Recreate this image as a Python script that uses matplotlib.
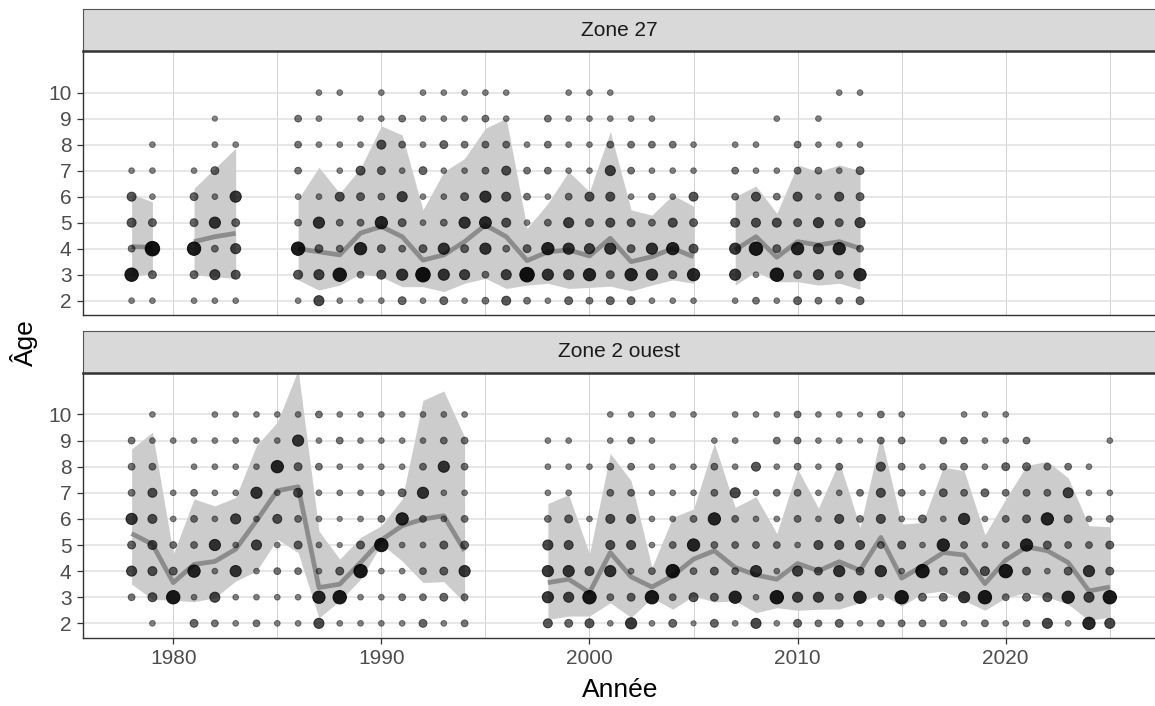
import numpy as np
import matplotlib
matplotlib.use("Agg")
import matplotlib.pyplot as plt

plt.rcParams['font.family'] = ['Liberation Sans', 'DejaVu Sans']

ages = [2, 3, 4, 5, 6, 7, 8, 9, 10]

# Zone 27
z27_years = [1978, 1979, 1981, 1982, 1983] + list(range(1986, 2006)) + list(range(2007, 2014))
# relative weight of each age (2..10) per year, 0 = no fish
z27_sizes = [
    [1, 4.5, 1.5, 2.5, 2.5, 1, 0, 0, 0],
    [1, 2, 5, 2, 1, 1, 1, 0, 0],
    [1, 2, 4.5, 2, 2, 1, 0, 0, 0],
    [1, 3, 1.5, 3.5, 1, 2, 1, 0.8, 0],
    [1, 2.5, 3, 2, 3.5, 0, 1, 0, 0],
    [1, 2.5, 4.5, 1.5, 1, 1.5, 1.5, 1.5, 0],
    [3, 3, 2, 3.5, 1, 0, 1, 1, 1],
    [1, 4.5, 1.5, 1.5, 2.5, 1, 1, 0, 1],
    [0.8, 1.5, 4, 1.5, 2, 2.5, 1, 1, 0],
    [1, 2.5, 2, 4, 1.5, 2, 2.5, 1, 1],
    [2, 3.5, 1.5, 2, 3, 1, 1.5, 1.5, 0],
    [1, 5, 2, 1, 1, 2, 1, 1, 1],
    [2, 3.5, 3.5, 1.5, 1, 1, 2, 1, 1],
    [1, 3, 2, 3.5, 2, 1, 1.5, 1, 1],
    [1.5, 1.5, 3.5, 3.8, 3.5, 1.5, 1.5, 1.5, 1],
    [2.5, 3, 1.5, 2.5, 2.5, 2.5, 1.5, 1, 1],
    [1.5, 5, 2, 1, 1.5, 1.5, 1, 0, 0],
    [1, 3.5, 4, 1.5, 1, 1.5, 1.5, 1.5, 0],
    [2, 3, 3.5, 3, 1.5, 1, 1, 1, 1],
    [1.5, 4, 3, 2, 2.5, 1, 1, 1, 1],
    [2, 2, 3.5, 2.5, 2.5, 3, 1.5, 1, 1],
    [2, 4, 2, 2, 1, 1.5, 1.5, 1, 0],
    [1, 3.5, 3.5, 1.5, 1.5, 1, 1.5, 1, 0],
    [1, 2, 4, 2.5, 1, 1, 1.5, 0, 0],
    [1, 4, 2.5, 2, 2.5, 1, 1, 0, 0],
    [1, 3.5, 3.5, 2.5, 1.5, 1.5, 1, 0, 0],
    [1.5, 1, 4.5, 2.5, 2.5, 1, 1, 0, 0],
    [1, 4.5, 2, 2.5, 1.5, 1, 0, 1, 0],
    [2, 2, 4, 2, 2.5, 1.5, 1.5, 0, 0],
    [1.5, 3, 3, 3, 1, 1.5, 1, 1, 0],
    [1.5, 2, 4, 2, 2.5, 1, 1, 0, 1],
    [2, 4, 1.5, 3, 2, 2, 1, 0, 1],
]
z27_mean = [4.08, 4.05, 4.27, 4.46, 4.59, 4.0, 3.88, 3.76, 4.6, 4.85, 4.46, 3.56, 3.76, 4.27,
            4.91, 4.46, 3.54, 3.88, 3.95, 3.72, 4.40, 3.5, 3.69, 4.01, 3.69,
            3.95, 4.46, 3.67, 4.27, 4.14, 4.27, 4.01]
z27_lo = [2.92, 3.05, 2.99, 2.92, 2.86, 2.8, 2.41, 2.6, 3.03, 2.92, 2.54, 2.54, 2.35, 2.67,
          2.86, 2.47, 2.6, 2.67, 2.47, 2.51, 2.56, 2.38, 2.6, 2.8, 2.67,
          2.6, 3.12, 2.73, 2.73, 2.6, 2.67, 2.44]
z27_hi = [6.1, 5.8, 6.32, 7.09, 7.86, 5.9, 7.13, 6.13, 7.1, 8.72, 8.37, 5.49, 6.96, 7.47,
          8.63, 9.01, 4.78, 5.74, 6.96, 6.19, 8.5, 5.49, 5.29, 6.06, 5.64,
          6.0, 6.41, 5.36, 7.22, 6.96, 7.22, 7.0]

# Zone 2 ouest
z2o_years = list(range(1978, 1995)) + list(range(1998, 2026))
z2o_sizes = [
    [0, 1.5, 3, 2, 3.5, 1.5, 1.5, 1.5, 0],
    [1, 2.5, 2.5, 2.5, 2.5, 2.5, 1.5, 1, 1],
    [0, 4.5, 2, 1.5, 1, 1, 0, 1, 0],
    [2, 1, 4, 1.5, 1.5, 1.5, 1, 1, 0],
    [1.5, 3, 1, 3.5, 1, 1, 1, 1, 1],
    [1, 1, 3.5, 1, 3, 1, 1, 1, 1],
    [1.5, 1, 1, 3, 1, 3.5, 1, 1, 1],
    [1, 1, 1.5, 1, 2.5, 1, 4, 1, 1],
    [1, 1, 1.5, 2, 1.5, 2.5, 2, 3.5, 1],
    [3, 4, 1, 1, 1, 1, 1.5, 1, 1.5],
    [1, 4.5, 2, 0.8, 0.8, 1, 1, 1.5, 1],
    [1, 1, 4.5, 2, 1, 1, 1, 1, 1],
    [1, 1, 1, 4.5, 1.5, 1, 1, 1, 1],
    [1, 1.5, 1, 1, 4, 2, 1, 1, 1],
    [2, 1.5, 1.5, 1, 1.5, 3.5, 1.5, 1, 1],
    [1, 2, 2, 2, 1, 1, 3.5, 1.5, 1],
    [1.5, 1.5, 3.5, 2, 1.5, 1, 1.5, 1.5, 1],
    [2.5, 3.5, 3.5, 3, 1.5, 1, 1, 1, 0],
    [2, 3, 3.5, 2.5, 2, 1, 1, 1, 0],
    [2.5, 4.5, 2.5, 0, 1, 0, 1, 0, 0],
    [1, 1.5, 3.5, 2.5, 2.5, 1.5, 1.5, 1, 1],
    [3.5, 2, 1, 2.5, 2.5, 1.5, 1.5, 1.5, 1],
    [1, 4.5, 1.5, 1, 1, 1, 1, 1, 1],
    [2, 1.5, 4.5, 1.5, 1, 1, 1, 0, 1],
    [0.8, 2.5, 1.5, 4, 1.5, 1, 1, 0, 1],
    [2, 2, 2, 1.5, 4, 1.5, 1.5, 1, 0],
    [1, 4, 1.5, 1.5, 1.5, 3, 1, 1, 1],
    [3, 1, 3.5, 1.5, 1, 1, 2.5, 0, 1],
    [1, 4.5, 1, 1.5, 1, 1.5, 1, 1.5, 1],
    [2, 3, 3, 1, 1.5, 1.5, 1.5, 1.5, 1.5],
    [1.5, 3, 2, 2.5, 1, 1, 1, 1, 1],
    [2, 2, 3.5, 2.5, 2.5, 1, 1.5, 1, 1],
    [1, 4, 2, 2.5, 1.5, 1.5, 0, 0.8, 0.8],
    [1.5, 1, 3.5, 1.5, 2.5, 2.5, 2.5, 1.5, 1.5],
    [1.5, 4.5, 1, 2, 1, 1.5, 1.5, 1.5, 1],
    [1.5, 2, 4.5, 1, 2, 1, 1, 0, 0],
    [1.5, 2, 2, 4, 1, 2, 1.5, 1.5, 0],
    [1, 3.5, 2, 1.5, 3.5, 1.5, 1.5, 1.5, 1],
    [1.5, 4.5, 2.5, 1, 1, 2, 1, 1, 1],
    [1, 1.5, 4.5, 1.5, 1.5, 1.5, 2, 1, 1],
    [1.5, 2, 2, 4, 2, 1.5, 2, 1.5, 0],
    [3, 2.5, 1, 2, 4, 1.5, 1.5, 0, 0],
    [1, 4, 2, 1.5, 2, 3, 1.5, 0, 0],
    [4, 3, 3.5, 1.5, 1, 1, 1, 0, 0],
    [3, 4.5, 2, 2, 1.5, 1, 0, 1, 0],
]
z2o_mean = [5.44, 5.03, 3.56, 4.26, 4.37, 4.84, 5.93, 7.08, 7.23, 3.37, 3.5, 4.33, 5.19, 5.74, 5.99, 6.12, 4.78,
            3.56, 3.69, 3.18, 4.71, 3.78, 3.39, 3.82, 4.46, 4.78, 4.14, 3.85, 3.69, 4.29, 4.01, 4.36,
            4.03, 5.29, 3.73, 4.2, 4.71, 4.62, 3.52, 4.42, 4.93, 4.78, 4.33, 3.24, 3.39]
z2o_lo = [3.5, 2.92, 2.88, 2.83, 2.98, 3.62, 4.0, 5.22, 4.71, 2.21, 2.86, 3.69, 5.03, 4.39, 3.56, 3.6, 2.79,
          2.15, 2.28, 2.28, 2.79, 2.22, 2.98, 2.54, 3.05, 2.82, 2.86, 2.41, 2.6, 2.5, 2.54, 2.55,
          2.79, 3.14, 2.66, 3.14, 3.24, 2.88, 2.5, 2.98, 3.18, 3.01, 2.73, 2.11, 2.24]
z2o_hi = [8.68, 9.32, 4.65, 6.76, 6.5, 6.82, 8.81, 9.71, 11.7, 5.54, 4.46, 5.29, 5.74, 6.76, 10.54, 10.9, 9.13,
          6.59, 6.93, 4.65, 8.51, 7.46, 4.14, 6.06, 6.38, 8.9, 6.44, 6.85, 5.44, 7.91, 6.41, 8.2,
          5.67, 9.19, 5.8, 5.86, 7.98, 7.85, 5.39, 6.76, 8.04, 8.21, 7.57, 5.74, 5.7]

zones = ["Zone 27", "Zone 2 ouest"]
panel_data = [
    (z27_years, z27_sizes, z27_mean, z27_lo, z27_hi),
    (z2o_years, z2o_sizes, z2o_mean, z2o_lo, z2o_hi),
]

W, H = 1155, 706
fig = plt.figure(figsize=(W / 100, H / 100), dpi=100)

left, right = 82.7, 1158.7
panels = [(51, 315), (372.7, 637.7)]
strips = [(9, 51), (330.7, 372.7)]


def runs(years):
    # split the years into runs of consecutive years (gaps break line and ribbon)
    out, start = [], 0
    for i in range(1, len(years) + 1):
        if i == len(years) or years[i] != years[i - 1] + 1:
            out.append((start, i))
            start = i
    return out


for k, zone in enumerate(zones):
    top, bot = panels[k]
    ax = fig.add_axes([left / W, 1 - bot / H, (right - left) / W, (bot - top) / H])
    years, sizes, mean, lo, hi = panel_data[k]
    years = np.array(years)
    mean, lo, hi = np.array(mean), np.array(lo), np.array(hi)

    for a, b in runs(list(years)):
        ax.fill_between(years[a:b], lo[a:b], hi[a:b], color='#cccccc', lw=0, zorder=1)
        ax.plot(years[a:b], mean[a:b], color='#8c8c8c', lw=3.4, solid_capstyle='butt', zorder=2)

    xs, ys, ss = [], [], []
    for yr, row in zip(years, sizes):
        for age, s in zip(ages, row):
            if s > 0:
                xs.append(yr)
                ys.append(age)
                ss.append(s)
    ss = np.array(ss)
    diam_px = 3.5 + 2.2 * ss
    area = (diam_px * 0.72) ** 2
    alpha = np.clip(0.35 + 0.12 * ss, 0, 0.93)
    cols = np.zeros((len(ss), 4))
    cols[:, 3] = alpha
    ax.scatter(xs, ys, s=area, c=cols, edgecolors=cols, linewidths=0.7, zorder=3)

    ax.set_xlim(1975.65, 2027.35)
    ax.set_ylim(1.45, 11.6)
    ax.set_yticks(ages)
    ax.set_yticklabels([str(a) for a in ages])
    ax.set_xticks([1980, 1990, 2000, 2010, 2020])
    ax.set_xticks([1985, 1995, 2005, 2015, 2025], minor=True)
    ax.grid(True, which='major', axis='x', color='#d2d2d2', lw=0.7)
    ax.grid(True, which='minor', axis='x', color='#d2d2d2', lw=0.7)
    ax.grid(True, which='major', axis='y', color='#e0e0e0', lw=1.1)
    ax.set_axisbelow(True)
    for sp in ['top', 'right']:
        ax.spines[sp].set_visible(False)
    for sp in ['left', 'bottom']:
        ax.spines[sp].set_color('#333333')
        ax.spines[sp].set_linewidth(1.0)
    ax.tick_params(axis='y', length=4.5, width=0.9, color='#333333', labelcolor='#4d4d4d',
                   labelsize=15, pad=3.5)
    ax.tick_params(axis='x', which='minor', length=0)
    if k == 0:
        ax.tick_params(axis='x', which='major', length=0, labelbottom=False)
    else:
        ax.tick_params(axis='x', which='major', length=4.5, width=0.9, color='#333333',
                       labelcolor='#4d4d4d', labelsize=15, pad=3.5)

    st, sb = strips[k]
    sax = fig.add_axes([left / W, 1 - sb / H, (right - left) / W, (sb - st) / H])
    sax.set_facecolor('#d9d9d9')
    sax.set_xticks([])
    sax.set_yticks([])
    for sp in sax.spines.values():
        sp.set_color('#555555')
        sp.set_linewidth(0.8)
    sax.spines['bottom'].set_color('#333333')
    sax.spines['bottom'].set_linewidth(1.8)
    sax.text(0.5 * (W - left) / (right - left), 0.5, zone, transform=sax.transAxes,
             ha='center', va='center', fontsize=15, color='#1a1a1a')

fig.text(24 / W, 1 - 343 / H, "Âge", rotation=90, ha='center', va='center', fontsize=19)
fig.text(620 / W, 1 - 690 / H, "Année", ha='center', va='center', fontsize=19)

fig.savefig("out.png", dpi=100)
